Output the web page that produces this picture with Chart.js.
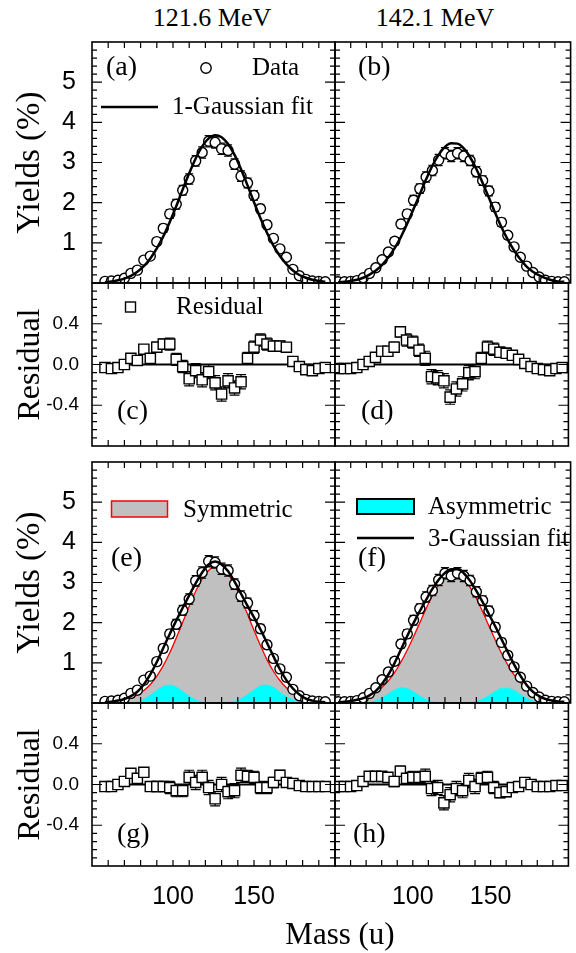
<!DOCTYPE html>
<html>
<head>
<meta charset="utf-8">
<script src="https://cdn.jsdelivr.net/npm/chart.js@4.4.1/dist/chart.umd.min.js"></script>
<style>
  html, body { margin: 0; padding: 0; background: #fff; overflow: hidden; }
  body { width: 576px; height: 953px; position: relative; }
  canvas { position: absolute; }
  .txt { position: absolute; text-align: center; font-family: "Liberation Serif", "Times New Roman", serif; color: #000; white-space: nowrap; }
</style>
</head>
<body>
<div class="txt" id="t1" style="left:132px;width:160px;top:3px;font-size:26px;line-height:30px;">121.6 MeV</div>
<div class="txt" id="t2" style="left:355px;width:160px;top:3px;font-size:26px;line-height:30px;">142.1 MeV</div>
<canvas id="pa"></canvas>
<canvas id="pb"></canvas>
<canvas id="pc"></canvas>
<canvas id="pd"></canvas>
<canvas id="pe"></canvas>
<canvas id="pf"></canvas>
<canvas id="pg"></canvas>
<canvas id="ph"></canvas>
<div class="txt" id="xt" style="left:240px;width:200px;top:916px;font-size:31px;line-height:36px;">Mass (u)</div>
<script>
// ---- data ----
// 121.6 MeV (left column)
const massL = [58, 62, 66, 70, 74, 78, 82, 86, 90, 94, 98, 102, 106, 110, 114, 118, 122, 126, 130, 134,
  138, 142, 146, 150, 154, 158, 162, 166, 170, 174, 178, 182, 186, 190, 194];
const yieldL = [0.04, 0.05, 0.07, 0.12, 0.24, 0.32, 0.57, 0.67, 1.03, 1.36, 1.72, 1.96, 2.31, 2.59, 3.04, 3.25, 3.53, 3.50, 3.34, 3.30,
  2.96, 2.66, 2.49, 2.18, 1.85, 1.45, 1.11, 0.85, 0.64, 0.34, 0.18, 0.09, 0.05, 0.04, 0.03];
const errYieldL = [0.02, 0.02, 0.03, 0.04, 0.05, 0.06, 0.07, 0.08, 0.09, 0.10, 0.11, 0.12, 0.12, 0.13, 0.13, 0.14, 0.14, 0.14, 0.14, 0.14,
  0.13, 0.13, 0.12, 0.12, 0.11, 0.10, 0.09, 0.08, 0.07, 0.06, 0.05, 0.04, 0.03, 0.02, 0.02];
const fit1L = [0.02, 0.04, 0.07, 0.11, 0.18, 0.28, 0.42, 0.61, 0.86, 1.16, 1.52, 1.91, 2.33, 2.73, 3.10, 3.40, 3.60, 3.68, 3.63, 3.46,
  3.19, 2.83, 2.43, 2.01, 1.61, 1.25, 0.93, 0.67, 0.47, 0.31, 0.20, 0.13, 0.08, 0.05, 0.03];
const res1L = [-0.03, -0.04, -0.03, 0.00, 0.06, 0.04, 0.15, 0.06, 0.17, 0.20, 0.20, 0.05, -0.02, -0.14, -0.06, -0.15, -0.07, -0.18, -0.29, -0.16,
  -0.23, -0.17, 0.06, 0.17, 0.24, 0.20, 0.18, 0.18, 0.17, 0.03, -0.02, -0.05, -0.06, -0.04, -0.03];
const errResL = [0.01, 0.01, 0.01, 0.02, 0.02, 0.03, 0.03, 0.04, 0.05, 0.05, 0.06, 0.06, 0.06, 0.07, 0.07, 0.07, 0.07, 0.07, 0.07, 0.07,
  0.07, 0.07, 0.06, 0.06, 0.06, 0.06, 0.05, 0.05, 0.04, 0.04, 0.03, 0.02, 0.02, 0.01, 0.01];
const fit3L = [0.02, 0.03, 0.06, 0.10, 0.17, 0.28, 0.46, 0.71, 1.02, 1.37, 1.72, 2.05, 2.37, 2.68, 2.98, 3.25, 3.45, 3.52, 3.45, 3.28,
  3.02, 2.72, 2.42, 2.13, 1.83, 1.50, 1.16, 0.84, 0.57, 0.36, 0.21, 0.11, 0.06, 0.03, 0.02];
const symL = [0.01, 0.02, 0.04, 0.07, 0.12, 0.20, 0.31, 0.46, 0.67, 0.93, 1.25, 1.62, 2.01, 2.41, 2.78, 3.09, 3.30, 3.40, 3.36, 3.21,
  2.94, 2.60, 2.21, 1.81, 1.43, 1.08, 0.79, 0.56, 0.38, 0.25, 0.15, 0.09, 0.05, 0.03, 0.02];
const asymL = [0, 0, 0, 0, 0.01, 0.04, 0.10, 0.20, 0.32, 0.42, 0.45, 0.40, 0.29, 0.17, 0.08, 0.03, 0.01, 0, 0, 0.02,
  0.05, 0.11, 0.21, 0.33, 0.43, 0.45, 0.39, 0.27, 0.16, 0.08, 0.03, 0.01, 0, 0, 0];
const res3L = [-0.02, -0.02, 0.00, 0.03, 0.11, 0.06, 0.12, -0.02, -0.02, -0.02, -0.03, -0.06, -0.06, 0.07, 0.02, 0.07, -0.03, -0.14, 0.00, -0.07,
  -0.06, 0.09, 0.08, 0.07, -0.03, -0.03, 0.02, 0.09, 0.02, 0.01, -0.01, -0.02, -0.02, -0.02, -0.02];

// 142.1 MeV (right column)
const massR = [52, 56, 60, 64, 68, 72, 76, 80, 84, 88, 92, 96, 100, 104, 108, 112, 116, 120, 124, 128,
  132, 136, 140, 144, 148, 152, 156, 160, 164, 168, 172, 176, 180, 184, 188, 192, 196];
const yieldR = [0.03, 0.03, 0.04, 0.06, 0.13, 0.24, 0.38, 0.58, 0.77, 1.04, 1.47, 1.72, 2.06, 2.35, 2.64, 2.80, 3.06, 3.23, 3.16, 3.23,
  3.16, 3.05, 2.77, 2.55, 2.29, 1.89, 1.51, 1.19, 0.90, 0.64, 0.42, 0.26, 0.15, 0.07, 0.04, 0.03, 0.03];
const errYieldR = [0.01, 0.02, 0.02, 0.03, 0.04, 0.05, 0.06, 0.07, 0.08, 0.09, 0.10, 0.11, 0.12, 0.12, 0.13, 0.13, 0.14, 0.14, 0.14, 0.14,
  0.14, 0.13, 0.13, 0.12, 0.12, 0.11, 0.10, 0.09, 0.08, 0.07, 0.06, 0.05, 0.04, 0.03, 0.02, 0.02, 0.01];
const fit1R = [0.02, 0.03, 0.05, 0.08, 0.13, 0.21, 0.31, 0.45, 0.64, 0.87, 1.15, 1.48, 1.84, 2.21, 2.58, 2.92, 3.19, 3.39, 3.48, 3.47,
  3.35, 3.13, 2.84, 2.49, 2.12, 1.74, 1.39, 1.08, 0.81, 0.59, 0.41, 0.28, 0.19, 0.12, 0.07, 0.04, 0.03];
const res1R = [-0.04, -0.04, -0.04, -0.03, 0.00, 0.03, 0.07, 0.13, 0.13, 0.17, 0.32, 0.24, 0.22, 0.14, 0.06, -0.12, -0.13, -0.16, -0.32, -0.24,
  -0.19, -0.08, -0.07, 0.06, 0.17, 0.15, 0.12, 0.11, 0.09, 0.05, 0.01, -0.02, -0.04, -0.05, -0.06, -0.04, -0.03];
const errResR = [0.01, 0.01, 0.01, 0.01, 0.02, 0.02, 0.03, 0.03, 0.04, 0.05, 0.05, 0.06, 0.06, 0.06, 0.07, 0.07, 0.07, 0.07, 0.07, 0.07,
  0.07, 0.07, 0.07, 0.06, 0.06, 0.06, 0.05, 0.05, 0.04, 0.04, 0.03, 0.03, 0.02, 0.02, 0.01, 0.01, 0.01];
const fit3R = [0.02, 0.03, 0.05, 0.08, 0.12, 0.19, 0.30, 0.48, 0.71, 1.00, 1.33, 1.67, 1.99, 2.29, 2.57, 2.84, 3.07, 3.24, 3.33, 3.33,
  3.23, 3.04, 2.79, 2.51, 2.21, 1.91, 1.59, 1.27, 0.96, 0.68, 0.45, 0.28, 0.17, 0.10, 0.06, 0.04, 0.03];
const symR = [0.01, 0.02, 0.04, 0.07, 0.11, 0.17, 0.26, 0.39, 0.55, 0.76, 1.02, 1.32, 1.65, 2.00, 2.35, 2.67, 2.94, 3.12, 3.21, 3.20,
  3.08, 2.88, 2.60, 2.27, 1.92, 1.57, 1.24, 0.95, 0.70, 0.51, 0.35, 0.24, 0.15, 0.10, 0.06, 0.03, 0.02];
const asymR = [0, 0, 0, 0, 0.01, 0.03, 0.06, 0.13, 0.23, 0.33, 0.38, 0.36, 0.28, 0.18, 0.09, 0.04, 0.01, 0, 0, 0,
  0, 0.02, 0.05, 0.10, 0.19, 0.29, 0.37, 0.37, 0.32, 0.22, 0.12, 0.06, 0.02, 0.01, 0, 0, 0];
const res3R = [-0.02, -0.02, -0.02, -0.01, 0.03, 0.08, 0.08, 0.08, 0.07, 0.03, 0.13, 0.06, 0.07, 0.07, 0.08, -0.04, -0.03, -0.18, -0.10, -0.04,
  -0.06, 0.04, -0.02, 0.06, 0.07, -0.03, -0.08, -0.07, -0.03, -0.02, 0.02, 0.00, -0.02, -0.02, -0.02, -0.01, -0.01];

// zero reference line of the residual panels (mass end points)
const zeroLineL = [55, 197];
const zeroLineR = [50, 200];

// axes
const massRange = [50, 200];
const yieldRange = [0, 6];
const residRange = [-0.8, 0.8];
const massTicks = [100, 150];
const yieldTicks = [1, 2, 3, 4, 5];
const residTicks = [-0.4, 0, 0.4];

// ---- layout / style ----
const SERIF = '"Liberation Serif", "Times New Roman", serif';
const SANS = '"Liberation Sans", Arial, sans-serif';
Chart.defaults.color = "#000";
Chart.defaults.font.family = SANS;

// canvases overlap a little so that tick-label padding never moves a plot frame
const COLS = [
  { left: 0, width: 355, pad: { left: 0, right: 20 } },   // plot 92..335
  { left: 315, width: 262, pad: { left: 20, right: 0 } }, // plot 335..577
];
const ROWS = {
  top: { top: 0, height: 323, pad: { top: 42, bottom: 40 } },   // 42..283
  res1: { top: 243, height: 243, pad: { top: 40, bottom: 40 } }, // 283..446
  mid: { top: 422, height: 321, pad: { top: 40, bottom: 40 } },  // 462..703
  res3: { top: 663, height: 290, pad: { top: 40, bottom: 0 } },  // 703..866
};

const pts = (xs, ys) => xs.map((x, i) => ({ x, y: ys[i] }));

function drawLegendItem(ctx, a, it) {
  const x = a.left + it.x, y = a.top + it.y;
  ctx.save();
  ctx.strokeStyle = "#000";
  ctx.fillStyle = "#000";
  if (it.type === "circle") {
    ctx.lineWidth = 1.4;
    ctx.fillStyle = "#fff";
    ctx.beginPath();
    ctx.arc(x, y, 5.2, 0, Math.PI * 2);
    ctx.fill();
    ctx.stroke();
  } else if (it.type === "square") {
    ctx.lineWidth = 1.4;
    ctx.fillStyle = "#fff";
    ctx.fillRect(x - 5, y - 5, 10, 10);
    ctx.strokeRect(x - 5, y - 5, 10, 10);
  } else if (it.type === "line") {
    ctx.lineWidth = 2.5;
    ctx.beginPath();
    ctx.moveTo(x, y);
    ctx.lineTo(a.left + it.x2, y);
    ctx.stroke();
  } else if (it.type === "box") {
    ctx.fillStyle = it.fill;
    ctx.strokeStyle = it.stroke;
    ctx.lineWidth = it.lw;
    ctx.fillRect(x, y, it.w, it.h);
    ctx.strokeRect(x, y, it.w, it.h);
  } else if (it.type === "text") {
    ctx.font = `25px ${SERIF}`;
    ctx.textAlign = "left";
    ctx.textBaseline = "middle";
    ctx.fillText(it.text, x, y);
  }
  ctx.restore();
}

const decor = {
  id: "decor",
  beforeDatasetDraw(chart, args) {
    const ds = chart.data.datasets[args.index];
    if (!ds.errors) return;
    const { ctx, chartArea: a } = chart;
    const xs = chart.scales.x, ys = chart.scales.y;
    const c = ds.cap;
    ctx.save();
    ctx.beginPath();
    ctx.rect(a.left, a.top, a.right - a.left, a.bottom - a.top);
    ctx.clip();
    ctx.strokeStyle = "#000";
    ctx.lineWidth = 1.2;
    ctx.beginPath();
    ds.data.forEach((p, i) => {
      const px = xs.getPixelForValue(p.x);
      const y1 = ys.getPixelForValue(p.y - ds.errors[i]);
      const y2 = ys.getPixelForValue(p.y + ds.errors[i]);
      ctx.moveTo(px, y1); ctx.lineTo(px, y2);
      ctx.moveTo(px - c, y1); ctx.lineTo(px + c, y1);
      ctx.moveTo(px - c, y2); ctx.lineTo(px + c, y2);
    });
    ctx.stroke();
    ctx.restore();
  },
  afterDraw(chart, args, o) {
    const { ctx, chartArea: a } = chart;
    const xs = chart.scales.x, ys = chart.scales.y;
    ctx.save();
    ctx.strokeStyle = "#000";
    ctx.lineWidth = 1.2;
    ctx.beginPath();
    const nx = Math.round((xs.max - xs.min) / o.xStep);
    for (let i = 1; i < nx; i++) {
      const px = xs.getPixelForValue(xs.min + i * o.xStep);
      ctx.moveTo(px, a.bottom); ctx.lineTo(px, a.bottom - 6);
      ctx.moveTo(px, a.top); ctx.lineTo(px, a.top + 6);
    }
    const ny = Math.round((ys.max - ys.min) / o.yStep);
    for (let i = 1; i < ny; i++) {
      const v = ys.min + i * o.yStep;
      const r = v / o.yMajor;
      const len = Math.abs(r - Math.round(r)) < 1e-6 ? 10 : 5;
      const py = ys.getPixelForValue(v);
      ctx.moveTo(a.left, py); ctx.lineTo(a.left + len, py);
      ctx.moveTo(a.right, py); ctx.lineTo(a.right - len, py);
    }
    ctx.stroke();
    ctx.lineWidth = 1.6;
    ctx.strokeRect(a.left, a.top, a.right - a.left, a.bottom - a.top);

    ctx.fillStyle = "#000";
    ctx.font = `28px ${SERIF}`;
    ctx.textAlign = "left";
    ctx.textBaseline = "middle";
    ctx.fillText(o.label, a.left + o.labelAt[0], a.top + o.labelAt[1]);
    (o.legend || []).forEach((it) => drawLegendItem(ctx, a, it));
    ctx.restore();
  },
};

function yieldSets(mass, data, err, fit, fitLabel, sym, asym) {
  const sets = [
    { label: fitLabel, data: pts(mass, fit), borderColor: "#000", borderWidth: 2.5, pointRadius: 0,
      cubicInterpolationMode: "monotone", order: 0 },
    { label: "Data", data: pts(mass, data), errors: err, cap: 4, showLine: false, pointStyle: "circle",
      pointRadius: 5, pointBorderWidth: 1.4, pointBackgroundColor: "#fff", pointBorderColor: "#000", order: 1 },
  ];
  if (sym) {
    sets.push({ label: "Asymmetric", data: pts(mass, asym), fill: "origin", backgroundColor: "#00ffff",
      borderColor: "#00ffff", borderWidth: 0.5, pointRadius: 0, cubicInterpolationMode: "monotone", order: 2 });
    sets.push({ label: "Symmetric", data: pts(mass, sym), fill: "origin", backgroundColor: "#c0c0c0",
      borderColor: "#ff0000", borderWidth: 1.3, pointRadius: 0, cubicInterpolationMode: "monotone", order: 3 });
  }
  return sets;
}

function residSets(mass, res, err, zero) {
  return [
    { label: "Residual", data: pts(mass, res), errors: err, cap: 5, showLine: false, pointStyle: "rect",
      pointRadius: 7.2, pointBorderWidth: 1.4, pointBackgroundColor: "#fff", pointBorderColor: "#000", order: 0 },
    { label: "zero", data: pts(zero, [0, 0]), borderColor: "#000", borderWidth: 2, pointRadius: 0, order: 1 },
  ];
}

function panel(id, colIdx, rowKey, spec) {
  const col = COLS[colIdx], row = ROWS[rowKey];
  const cv = document.getElementById(id);
  cv.width = col.width;
  cv.height = row.height;
  cv.style.left = col.left + "px";
  cv.style.top = row.top + "px";
  const isYield = spec.kind === "yield";
  const showLeft = colIdx === 0;
  const showBottom = rowKey === "res3";
  const yTicks = isYield ? yieldTicks : residTicks;
  const yRange = isYield ? yieldRange : residRange;

  const xScale = {
    type: "linear", min: massRange[0], max: massRange[1], display: showBottom,
    grid: { display: false, drawTicks: false }, border: { display: false },
    afterBuildTicks: (s) => { s.ticks = massTicks.map((v) => ({ value: v })); },
    ticks: { font: { family: SANS, size: 25 }, color: "#000", padding: 16, maxRotation: 0, autoSkip: false },
  };
  if (showBottom) xScale.afterFit = (s) => { s.height = 87; };

  const yScale = {
    type: "linear", min: yRange[0], max: yRange[1], display: showLeft,
    grid: { display: false, drawTicks: false }, border: { display: false },
    afterBuildTicks: (s) => { s.ticks = yTicks.map((v) => ({ value: v })); },
    ticks: {
      font: { family: SANS, size: isYield ? 25 : 19 }, color: "#000", padding: isYield ? 16 : 13, autoSkip: false,
      callback: (v) => (isYield ? String(v) : (Math.abs(v) < 1e-9 ? "0.0" : v.toFixed(1))),
    },
    title: {
      display: true, text: isYield ? "Yields (%)" : "Residual", color: "#000",
      font: { family: SERIF, size: isYield ? 33 : 32, lineHeight: 1.2 }, padding: { top: 11, bottom: 0 },
    },
  };
  if (showLeft) yScale.afterFit = (s) => { s.width = 92; };

  return new Chart(cv, {
    type: "line",
    data: { datasets: spec.datasets },
    options: {
      responsive: false,
      animation: false,
      devicePixelRatio: 1,
      layout: { padding: { left: col.pad.left, right: col.pad.right, top: row.pad.top, bottom: row.pad.bottom } },
      plugins: {
        legend: { display: false },
        tooltip: { enabled: false },
        decor: Object.assign({ xStep: 10, yStep: isYield ? 0.2 : 0.08, yMajor: isYield ? 1 : 0.4 }, spec.decor),
      },
      scales: { x: xScale, y: yScale },
    },
    plugins: [decor],
  });
}

panel("pa", 0, "top", {
  kind: "yield",
  datasets: yieldSets(massL, yieldL, errYieldL, fit1L, "1-Gaussian fit"),
  decor: {
    label: "(a)", labelAt: [14, 26],
    legend: [
      { type: "circle", x: 114, y: 26 },
      { type: "text", x: 160, y: 26, text: "Data" },
      { type: "line", x: 9, x2: 66, y: 65 },
      { type: "text", x: 80, y: 65, text: "1-Gaussian fit" },
    ],
  },
});
panel("pb", 1, "top", {
  kind: "yield",
  datasets: yieldSets(massR, yieldR, errYieldR, fit1R, "1-Gaussian fit"),
  decor: { label: "(b)", labelAt: [23, 26] },
});
panel("pc", 0, "res1", {
  kind: "resid",
  datasets: residSets(massL, res1L, errResL, zeroLineL),
  decor: {
    label: "(c)", labelAt: [25, 129],
    legend: [
      { type: "square", x: 38.5, y: 24 },
      { type: "text", x: 84, y: 24, text: "Residual" },
    ],
  },
});
panel("pd", 1, "res1", {
  kind: "resid",
  datasets: residSets(massR, res1R, errResR, zeroLineR),
  decor: { label: "(d)", labelAt: [26, 129] },
});
panel("pe", 0, "mid", {
  kind: "yield",
  datasets: yieldSets(massL, yieldL, errYieldL, fit3L, "3-Gaussian fit", symL, asymL),
  decor: {
    label: "(e)", labelAt: [19, 97],
    legend: [
      { type: "box", x: 19.5, y: 39, w: 56, h: 16, fill: "#c0c0c0", stroke: "#ff0000", lw: 1.5 },
      { type: "text", x: 91, y: 48, text: "Symmetric" },
    ],
  },
});
panel("pf", 1, "mid", {
  kind: "yield",
  datasets: yieldSets(massR, yieldR, errYieldR, fit3R, "3-Gaussian fit", symR, asymR),
  decor: {
    label: "(f)", labelAt: [23, 97],
    legend: [
      { type: "box", x: 22, y: 37, w: 57, h: 15, fill: "#00ffff", stroke: "#000", lw: 2 },
      { type: "text", x: 93, y: 45, text: "Asymmetric" },
      { type: "line", x: 22, x2: 79, y: 76 },
      { type: "text", x: 93, y: 77, text: "3-Gaussian fit" },
    ],
  },
});
panel("pg", 0, "res3", {
  kind: "resid",
  datasets: residSets(massL, res3L, errResL, zeroLineL),
  decor: { label: "(g)", labelAt: [25, 132] },
});
panel("ph", 1, "res3", {
  kind: "resid",
  datasets: residSets(massR, res3R, errResR, zeroLineR),
  decor: { label: "(h)", labelAt: [18, 132] },
});
</script>
</body>
</html>
